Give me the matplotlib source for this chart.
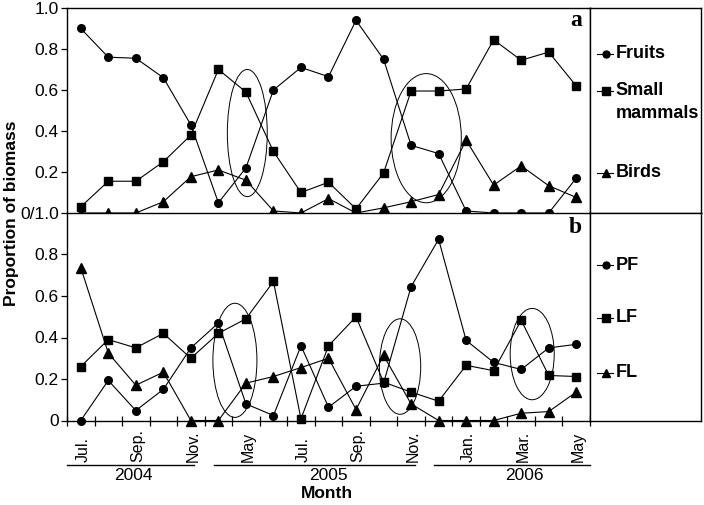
import matplotlib
matplotlib.use("Agg")
import matplotlib.pyplot as plt
import matplotlib.transforms as mtransforms
from matplotlib.patches import Ellipse
from matplotlib.lines import Line2D

plt.rcParams['font.family'] = ['Liberation Sans', 'DejaVu Sans']

# month positions Jul 2004 .. May 2006 (19 samples)
month_labels = ['Jul.', '', 'Sep.', '', 'Nov.', '', 'May', '', 'Jul.', '', 'Sep.', '',
                'Nov.', '', 'Jan.', '', 'Mar.', '', 'May']
years = ['2004', '2005', '2006']
year_start = [0, 5, 13]
year_end = [4, 12, 18]

# panel a: diet composition
fruits = [0.90, 0.76, 0.755, 0.66, 0.43, 0.05, 0.22, 0.60, 0.71, 0.665, 0.94,
          0.75, 0.33, 0.29, 0.01, 0.0, 0.0, 0.0, 0.17]
small_mammals = [0.03, 0.155, 0.155, 0.25, 0.38, 0.70, 0.59, 0.30, 0.10, 0.15, 0.02,
                 0.195, 0.595, 0.595, 0.605, 0.845, 0.745, 0.785, 0.62]
birds = [0.0, 0.0, 0.0, 0.055, 0.177, 0.21, 0.16, 0.01, 0.0, 0.07, 0.0,
         0.025, 0.055, 0.09, 0.355, 0.136, 0.23, 0.133, 0.076]

# panel b: fruit types
pf = [0.0, 0.193, 0.048, 0.15, 0.35, 0.47, 0.08, 0.024, 0.36, 0.064, 0.165,
      0.18, 0.645, 0.873, 0.386, 0.28, 0.246, 0.35, 0.367]
lf = [0.26, 0.39, 0.35, 0.42, 0.30, 0.42, 0.49, 0.67, 0.008, 0.36, 0.50,
      0.185, 0.137, 0.093, 0.266, 0.24, 0.483, 0.217, 0.212]
fl = [0.737, 0.325, 0.17, 0.233, 0.0, 0.0, 0.18, 0.212, 0.255, 0.30, 0.053,
      0.314, 0.08, 0.0, 0.0, 0.0, 0.035, 0.043, 0.137]

# ellipses (centre x, centre y, width, height) in data units
ellipses_a = [(6.05, 0.39, 1.45, 0.62), (12.55, 0.365, 2.55, 0.63)]
ellipses_b = [(5.6, 0.29, 1.6, 0.55), (11.6, 0.26, 1.5, 0.46), (16.4, 0.32, 1.6, 0.44)]

x = list(range(len(month_labels)))

W, H = 704, 505
fig = plt.figure(figsize=(W / 100, H / 100), dpi=100)

def frac(l, t, r, b):
    return [l / W, 1 - b / H, (r - l) / W, (b - t) / H]

ax_a = fig.add_axes(frac(67, 8, 590, 213))
ax_b = fig.add_axes(frac(67, 213, 590, 420.5))
leg_a = fig.add_axes(frac(590, 8, 701, 213))
leg_b = fig.add_axes(frac(590, 213, 701, 420.5))

style = dict(color='black', lw=0.8, clip_on=False, zorder=3)
mk = {'o': 5.5, 's': 6, '^': 6.5}

def draw(ax, series, markers):
    for s, m in zip(series, markers):
        ax.plot(x, s, marker=m, markersize=mk[m], **style)

draw(ax_a, [fruits, small_mammals, birds], ['o', 's', '^'])
draw(ax_b, [pf, lf, fl], ['o', 's', '^'])

for ax, ells in ((ax_a, ellipses_a), (ax_b, ellipses_b)):
    for cx, cy, w, h in ells:
        ax.add_patch(Ellipse((cx, cy), w, h, fill=False, ec='black', lw=0.7, zorder=2))
    ax.set_xlim(-0.5, len(x) - 0.5)
    ax.set_ylim(0, 1.0)
    for sp in ax.spines.values():
        sp.set_linewidth(1.0)
    ax.tick_params(axis='y', direction='out', length=4, width=0.9, labelsize=12.5, pad=2)

ax_a.set_yticks([0, 0.2, 0.4, 0.6, 0.8, 1.0])
ax_a.set_yticklabels(['0/1.0', '0.2', '0.4', '0.6', '0.8', '1.0'])
ax_a.set_xticks([])
ax_a.spines['bottom'].set_visible(False)

ax_b.set_yticks([0, 0.2, 0.4, 0.6, 0.8])
ax_b.set_yticklabels(['0', '0.2', '0.4', '0.6', '0.8'])
ax_b.set_xticks([i - 0.5 for i in range(len(x) + 1)])
ax_b.set_xticklabels([])
ax_b.tick_params(axis='x', direction='inout', length=7, width=0.9)

# month labels, bottom aligned as in the original
tr = mtransforms.blended_transform_factory(ax_b.transData, fig.transFigure)
for i, lab in enumerate(month_labels):
    if lab:
        ax_b.text(i + 0.08, 1 - 462 / H, lab, rotation=90, ha='center', va='bottom',
                  fontsize=11.5, transform=tr)

year_label_x = [1.9, 9.0, 16.1]
for yr, s, e, lx in zip(years, year_start, year_end, year_label_x):
    x0 = s - 0.5 if s == 0 else s - 0.5 + 0.33
    x1 = e + 0.5 if e == len(x) - 1 else e + 0.5 - 0.37
    ax_b.add_line(Line2D([x0, x1], [1 - 465 / H] * 2, color='black', lw=1.0,
                         transform=tr, clip_on=False))
    ax_b.text(lx, 1 - 475 / H, yr, ha='center', va='center', fontsize=12.5, transform=tr)

fig.text(327 / W, 1 - 493 / H, 'Month', ha='center', va='center', fontsize=12.5,
         fontweight='bold')
fig.text(12 / W, 1 - 213 / H, 'Proportion of biomass', rotation=90, ha='center',
         va='center', fontsize=12.5, fontweight='bold')

ax_a.text(0.985, 0.94, 'a', transform=ax_a.transAxes, ha='right', va='center',
          fontsize=17, fontweight='bold', family='Liberation Serif')
ax_b.text(0.985, 0.93, 'b', transform=ax_b.transAxes, ha='right', va='center',
          fontsize=17, fontweight='bold', family='Liberation Serif')

# legend boxes
def legend(ax, entries):
    ax.set_xlim(0, 1)
    ax.set_ylim(0, 1)
    ax.set_xticks([])
    ax.set_yticks([])
    for sp in ax.spines.values():
        sp.set_linewidth(1.0)
    for m, lab, yy in entries:
        ax.plot([0.06, 0.21], [yy, yy], color='black', lw=0.8)
        ax.plot([0.14], [yy], marker=m, color='black', markersize=mk[m] - 0.5)
        ax.text(0.23, yy, lab, ha='left', va='center', fontsize=13, fontweight='bold')

legend(leg_a, [('o', 'Fruits', 0.776), ('s', 'Small', 0.597), ('^', 'Birds', 0.197)])
leg_a.text(0.23, 0.487, 'mammals', ha='left', va='center', fontsize=13, fontweight='bold')
legend(leg_b, [('o', 'PF', 0.749), ('s', 'LF', 0.494), ('^', 'FL', 0.229)])

fig.savefig('out.png', dpi=100)
